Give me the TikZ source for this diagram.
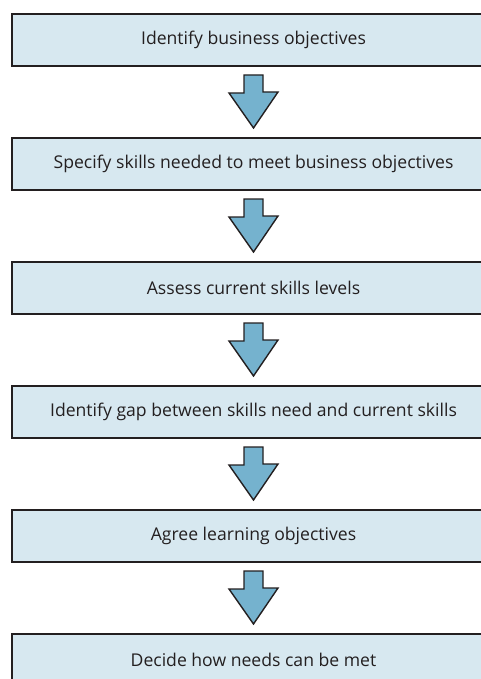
\documentclass[tikz,border=0pt]{standalone}
\usepackage{fontspec}
\setmainfont{Open Sans}
\usetikzlibrary{positioning, calc, backgrounds}

\definecolor{boxblue}{RGB}{215,232,240}
\definecolor{arrowblue}{RGB}{117,178,206}
\definecolor{inkblack}{RGB}{35,31,32}

% fat down arrow between two boxes
\newcommand{\blockarrow}[2]{%
  \draw[arrowbody] ($(#1.south)+(-9.5pt,-9pt)$) -- ++(19pt,0) -- ++(0,-17pt)
    -- ++(15pt,0) -- ($(#2.north)+(0,10pt)$) -- ++(-24.5pt,35pt)
    -- ++(15pt,0) -- cycle;}
% box behind a step, running on past the right edge of the page
\newcommand{\boxedge}[1]{%
  \path[boxshape] ($(#1.north east)+(120pt,0)$) -| (#1.south west) -- ++(603pt,0);}

\begin{document}
\begin{tikzpicture}[
			node distance=72pt,
			stepbox/.style={minimum width=483pt, minimum height=52pt,
				inner sep=0pt, outer sep=0pt, text=inkblack,
				font=\fontsize{17.6}{20}\selectfont},
			boxshape/.style={fill=boxblue, draw=inkblack, line width=1.8pt},
			arrowbody/.style={draw=inkblack, line width=1.4pt, fill=arrowblue,
				line join=miter}
			]
			\useasboundingbox (0,0) rectangle (480pt,-679pt);

			% the six steps, top to bottom
			\node[stepbox] (objectives) at (253.5pt,-40pt) {Identify business objectives};
			\node[stepbox] (skillsneeded) [below=of objectives] {Specify skills needed to meet business objectives};
			\node[stepbox] (assess) [below=of skillsneeded] {Assess current skills levels};
			\node[stepbox] (gap) [below=of assess] {Identify gap between skills need and current skills};
			\node[stepbox] (learning) [below=of gap] {Agree learning objectives};
			\node[stepbox] (decide) [below=of learning] {Decide how needs can be met};

			\begin{scope}[on background layer]
				\boxedge{objectives}
				\boxedge{skillsneeded}
				\boxedge{assess}
				\boxedge{gap}
				\boxedge{learning}
				\boxedge{decide}
			\end{scope}

			\blockarrow{objectives}{skillsneeded}
			\blockarrow{skillsneeded}{assess}
			\blockarrow{assess}{gap}
			\blockarrow{gap}{learning}
			\blockarrow{learning}{decide}
		\end{tikzpicture}
\end{document}
